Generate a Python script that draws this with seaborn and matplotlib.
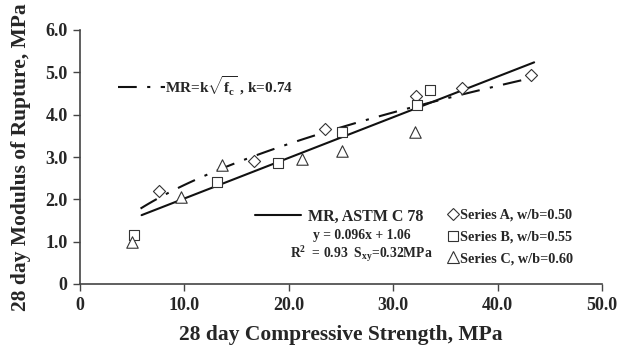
import numpy as np
import pandas as pd
import matplotlib
matplotlib.use("Agg")
import matplotlib.pyplot as plt
import seaborn as sns
from matplotlib.lines import Line2D

# ---- data ----
series_a_x = [7.6, 16.7, 23.5, 32.2, 36.6, 43.2]
series_a_y = [2.20, 2.91, 3.66, 4.43, 4.63, 4.93]
series_b_x = [5.2, 13.1, 19.0, 25.1, 32.3, 33.5]
series_b_y = [1.16, 2.40, 2.87, 3.59, 4.24, 4.58]
series_c_x = [5.0, 9.7, 13.6, 21.3, 25.1, 32.1]
series_c_y = [0.99, 2.06, 2.81, 2.95, 3.14, 3.59]
series_names = ["Series A, w/b=0.50", "Series B, w/b=0.55", "Series C, w/b=0.60"]

fit_slope = 0.096
fit_intercept = 1.06
fit_x_range = [5.9, 43.5]
k_coef = 0.74
sqrt_x_range = [5.8, 43.2]

x_ticks = [0, 10, 20, 30, 40, 50]
x_tick_labels = ["0", "10.0", "20.0", "30.0", "40.0", "50.0"]
y_ticks = [0, 1, 2, 3, 4, 5, 6]
y_tick_labels = ["0", "1.0", "2.0", "3.0", "4.0", "5.0", "6.0"]

# ---- frames ----
df = pd.DataFrame({
    "fc": series_a_x + series_b_x + series_c_x,
    "mr": series_a_y + series_b_y + series_c_y,
    "series": [series_names[0]] * len(series_a_x) + [series_names[1]] * len(series_b_x)
              + [series_names[2]] * len(series_c_x),
})
lin_x = np.linspace(fit_x_range[0], fit_x_range[1], 50)
lin_df = pd.DataFrame({"fc": lin_x, "mr": fit_slope * lin_x + fit_intercept})
sq_x = np.linspace(sqrt_x_range[0], sqrt_x_range[1], 100)
sq_df = pd.DataFrame({"fc": sq_x, "mr": k_coef * np.sqrt(sq_x)})

sns.set_style("ticks")
plt.rcParams["font.family"] = ["Liberation Serif", "DejaVu Serif"]
plt.rcParams["font.weight"] = "bold"
plt.rcParams["mathtext.fontset"] = "custom"
plt.rcParams["mathtext.rm"] = "Liberation Serif:bold"
plt.rcParams["mathtext.it"] = "Liberation Serif:bold"
plt.rcParams["mathtext.bf"] = "Liberation Serif:bold"

fig = plt.figure(figsize=(6.19, 3.47), dpi=100)
ax = fig.add_axes([80 / 619, 63 / 347, 522 / 619, 254 / 347])

sns.lineplot(data=lin_df, x="fc", y="mr", ax=ax, color="#111111", lw=1.5, legend=False)
sns.lineplot(data=sq_df, x="fc", y="mr", ax=ax, color="#111111", lw=1.5, legend=False)
ax.lines[-1].set_dashes([9, 5, 1.5, 5])

markers = {series_names[0]: "D", series_names[1]: "s", series_names[2]: "^"}
sizes = {series_names[0]: 38, series_names[1]: 62, series_names[2]: 68}
for name in series_names:
    sub = df[df["series"] == name]
    sns.scatterplot(data=sub, x="fc", y="mr", ax=ax, marker=markers[name],
                    s=sizes[name], facecolor="white", edgecolor="#333333",
                    linewidth=0.8, legend=False, zorder=3)

ax.set_xlim(0, 50)
ax.set_ylim(0, 6)
ax.set_xticks(x_ticks)
ax.set_xticklabels(x_tick_labels, fontweight="bold", fontsize=13)
ax.set_yticks(y_ticks)
ax.set_yticklabels(y_tick_labels, fontweight="bold", fontsize=13)
ax.tick_params(axis="both", length=5, width=1, color="#444444", pad=4)
for s in ["left", "bottom"]:
    ax.spines[s].set_color("#444444")
    ax.spines[s].set_linewidth(1.2)
sns.despine(ax=ax)

ax.set_xlabel("28 day Compressive Strength, MPa", fontsize=15.5, fontweight="bold", labelpad=8)
ax.set_ylabel("28 day Modulus of Rupture, MPa", fontsize=15.5, fontweight="bold", labelpad=10)

# legend 1: dash-dot model
h1 = Line2D([0], [0], color="#111111", lw=1.5, dashes=[9, 5, 1.5, 5])
leg1 = ax.legend([h1], [r"MR=k$\sqrt{\mathrm{f}_\mathrm{c}}$ , k=0.74"], loc="center left",
                 bbox_to_anchor=(0.073, 0.782), frameon=False, handlelength=3.1,
                 handletextpad=0.0, prop={"size": 11, "weight": "bold"}, borderpad=0,
                 borderaxespad=0)
ax.add_artist(leg1)

# legend 2: ASTM fit
h2 = Line2D([0], [0], color="#111111", lw=1.5)
leg2 = ax.legend([h2], ["MR, ASTM C 78"], loc="center left",
                 bbox_to_anchor=(0.335, 0.265), frameon=False, handlelength=2.9,
                 handletextpad=0.45, prop={"size": 11.5, "weight": "bold"}, borderpad=0,
                 borderaxespad=0)
ax.add_artist(leg2)
ax.text(0.54, 0.19, "y = 0.096x + 1.06", transform=ax.transAxes, ha="center",
        va="center", fontsize=9.8, fontweight="bold")
ax.text(0.54, 0.118, r"R$^2$  = 0.93  S$_{\mathrm{xy}}$=0.32MPa", transform=ax.transAxes,
        ha="center", va="center", fontsize=9.8, fontweight="bold")

# legend 3: series markers
hs = [Line2D([0], [0], marker=markers[n], ls="none", markerfacecolor="white",
             markeredgecolor="#333333", markeredgewidth=0.8,
             markersize={"D": 6, "s": 7.5, "^": 8}[markers[n]]) for n in series_names]
leg3 = ax.legend(hs, series_names, loc="center left", bbox_to_anchor=(0.703, 0.185),
                 frameon=False, handlelength=0.8, handletextpad=0.1, labelspacing=0.62,
                 prop={"size": 10.3, "weight": "bold"}, borderpad=0, borderaxespad=0)

fig.savefig("out.png", dpi=100)
